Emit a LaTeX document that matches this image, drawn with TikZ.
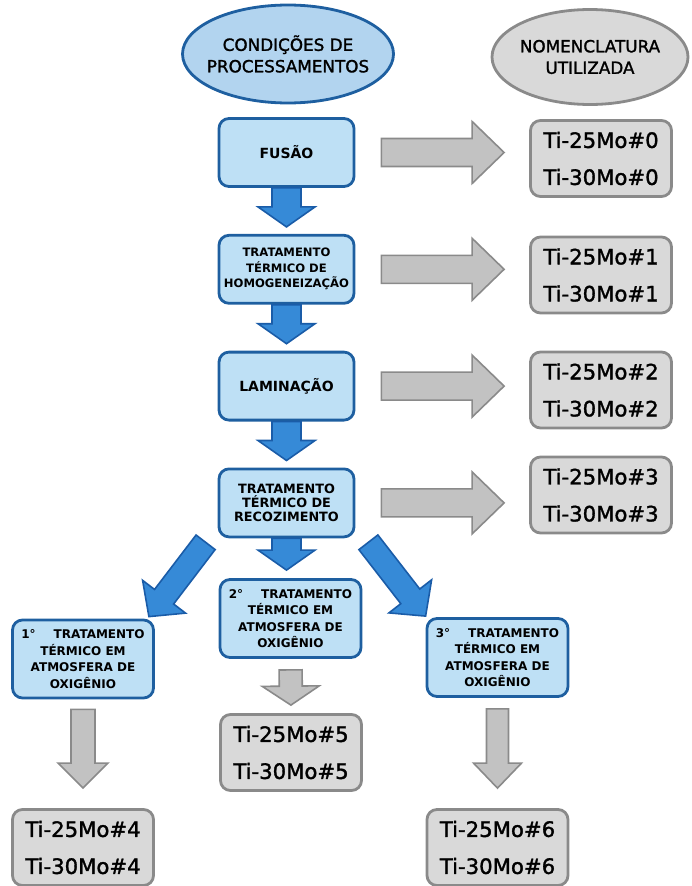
\documentclass[tikz,border=0pt]{standalone}
\usepackage{fontspec}
\setmainfont{DejaVu Sans}
\newfontface\semifont{DejaVu Sans}[FakeBold=1.5]
\usetikzlibrary{positioning, calc, shapes.geometric}

\definecolor{procfill}{RGB}{190,224,245}
\definecolor{procline}{RGB}{30,95,160}
\definecolor{headfill}{RGB}{178,212,239}
\definecolor{flowfill}{RGB}{54,138,215}
\definecolor{flowline}{RGB}{26,92,168}
\definecolor{namefill}{RGB}{217,217,217}
\definecolor{nameline}{RGB}{138,138,138}
\definecolor{arrowgrey}{RGB}{194,194,194}

\tikzset{
  node distance=46pt, % gap between the processing boxes
  every node/.style={align=center, inner sep=2pt},
  procbox/.style={draw=procline, line width=2.8pt, fill=procfill, rounded corners=10pt,
    minimum width=135pt, minimum height=68pt, font=\bfseries\fontsize{12.8}{14}\selectfont}, % blue steps
  oxbox/.style={procbox, minimum width=141pt, minimum height=78pt,
    font=\bfseries\fontsize{12}{16.5}\selectfont}, % oxygen treatments
  namebox/.style={draw=nameline, line width=2.8pt, fill=namefill, rounded corners=10pt,
    minimum width=141pt, minimum height=76pt, font=\semifont\fontsize{21.2}{37}\selectfont}, % grey names
  headline/.style={ellipse, line width=2.8pt, inner xsep=-10pt, inner ysep=0pt,
    font=\semifont\fontsize{16.8}{21.5}\selectfont}, % the two headings
  bluearrow/.style={fill=flowfill, draw=flowline, line width=1.6pt},
  greyarrow/.style={fill=arrowgrey, draw=nameline, line width=1.6pt},
}

% fat outlined arrow: [style]{half shaft}{half head}{head length}{from}{to}
\newcommand{\fatarrow}[6][]{%
  \path[#1] let \p1=(#5), \p2=(#6), \p3=($(\p2)!#4!(\p1)$) in
    ($(\p1)!#2!90:(\p2)$) -- ($(\p3)!#2!-90:(\p1)$) -- ($(\p3)!#3!-90:(\p1)$) -- (\p2)
    -- ($(\p3)!#3!90:(\p1)$) -- ($(\p3)!#2!90:(\p1)$) -- ($(\p1)!#2!-90:(\p2)$) -- cycle;
}

\begin{document}
\begin{tikzpicture}[x=1pt, y=-1pt]
  \useasboundingbox (0,0) rectangle (691,886);

  % Headings
  \node[headline, draw=procline, fill=headfill, minimum width=211pt, minimum height=98pt] (cond) at (288,54) {CONDIÇÕES DE\\PROCESSAMENTOS};
  \node[headline, draw=nameline, fill=namefill, minimum width=196pt, minimum height=95pt] (nomen) at (590,57) {NOMENCLATURA\\UTILIZADA};

  % Processing steps
  \node[procbox, font=\bfseries\fontsize{14}{16}\selectfont] (fusao) at (286.5,152.5) {FUSÃO};
  \node[procbox, below=of fusao, font=\bfseries\fontsize{11.6}{15.5}\selectfont] (homog) {TRATAMENTO\\TÉRMICO DE\\HOMOGENEIZAÇÃO};
  \node[procbox, below=of homog, font=\bfseries\fontsize{14}{16}\selectfont] (lamin) {LAMINAÇÃO};
  \node[procbox, below=of lamin] (recoz) {TRATAMENTO\\TÉRMICO DE\\RECOZIMENTO};

  % Oxygen treatments
  \node[oxbox] (ox1) at (83,659) {1°\hspace{18pt}TRATAMENTO\\TÉRMICO EM\\ATMOSFERA DE\\OXIGÊNIO};
  \node[oxbox] (ox2) at (290.5,618.5) {2°\hspace{18pt}TRATAMENTO\\TÉRMICO EM\\ATMOSFERA DE\\OXIGÊNIO};
  \node[oxbox] (ox3) at (497.5,657.5) {3°\hspace{18pt}TRATAMENTO\\TÉRMICO EM\\ATMOSFERA DE\\OXIGÊNIO};

  % Names
  \foreach \i/\y in {0/158.5, 1/275, 2/390, 3/495}
    \node[namebox] (n\i) at (601,\y) {Ti-25Mo\#\i\\Ti-30Mo\#\i};
  \node[namebox] (n4) at (83,847.5) {Ti-25Mo\#4\\Ti-30Mo\#4};
  \node[namebox] (n5) at (291,752.5) {Ti-25Mo\#5\\Ti-30Mo\#5};
  \node[namebox] (n6) at (497.5,847.5) {Ti-25Mo\#6\\Ti-30Mo\#6};

  % Flow between the steps
  \fatarrow[bluearrow]{14.5pt}{28.5pt}{20pt}{fusao.south}{$(homog.north)!7pt!(fusao.south)$}
  \fatarrow[bluearrow]{14.5pt}{28.5pt}{20pt}{homog.south}{$(lamin.north)!7pt!(homog.south)$}
  \fatarrow[bluearrow]{14.5pt}{28.5pt}{20pt}{lamin.south}{$(recoz.north)!7pt!(lamin.south)$}
  \fatarrow[bluearrow]{14.5pt}{28.5pt}{20pt}{recoz.south}{$(recoz.south |- ox2.north)!8pt!(recoz.south)$}
  \fatarrow[bluearrow]{12pt}{27pt}{25pt}{$(recoz.south west)+(-12pt,-4pt)$}{$(ox1.north east)+(-6pt,2pt)$}
  \fatarrow[bluearrow]{12pt}{27pt}{25pt}{$(recoz.south east)+(13pt,-4pt)$}{$(ox3.north west)+(0pt,1pt)$}

  % Steps to names
  \foreach \s/\t in {fusao/n0, homog/n1, lamin/n2, recoz/n3}
    \fatarrow[greyarrow]{14pt}{31pt}{32pt}{$(\s.east)!26pt!(\s.east -| \t.west)$}{$(\s.east -| \t.west)!25pt!(\s.east)$};
  \fatarrow[greyarrow]{12pt}{25pt}{25pt}{$(ox1.south)!10pt!(n4.north)$}{$(n4.north)!20pt!(ox1.south)$}
  \fatarrow[greyarrow]{11.5pt}{28.5pt}{19pt}{$(ox2.south)!11pt!(n5.north)$}{$(n5.north)!8pt!(ox2.south)$}
  \fatarrow[greyarrow]{11pt}{24pt}{25pt}{$(ox3.south)!11pt!(n6.north)$}{$(n6.north)!20pt!(ox3.south)$}
\end{tikzpicture}
\end{document}
